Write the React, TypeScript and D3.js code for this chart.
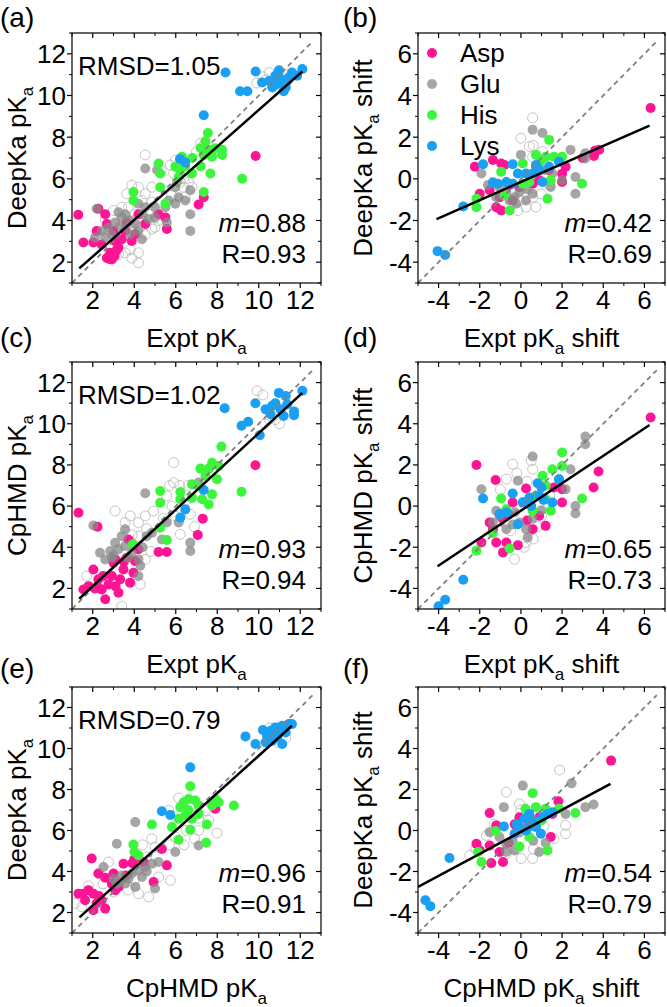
import React from "react";
import * as d3 from "d3";

type Pt = [number, number];

const W = 667;
const H = 1007;
const FONT = "'Liberation Sans', Arial, Helvetica, sans-serif";
const FS = 26;

const categories = ["Asp", "Glu", "His", "Lys"];
const catColors = ["#FF1493", "#888888", "#3CF53C", "#1AA0F2"];
const catOpacity = [1, 0.75, 1, 1];
const panelLetters = ["(a)", "(b)", "(c)", "(d)", "(e)", "(f)"];
const absTicks = [2, 4, 6, 8, 10, 12];
const shiftTicks = [-4, -2, 0, 2, 4, 6];
const absDomain: Pt = [1, 13];
const shiftDomain: Pt = [-5, 7];
const absDiag: Pt = [1, 12.6];
const shiftDiag: Pt = [-5, 6.6];

const rmsdText = ["1.05", "", "1.02", "", "0.79", ""];
const slopeText = ["0.88", "0.42", "0.93", "0.65", "0.96", "0.54"];
const rText = ["0.93", "0.69", "0.94", "0.73", "0.91", "0.79"];

const xLabels = [
  ["Expt pK", "a", ""], ["Expt pK", "a", " shift"],
  ["Expt pK", "a", ""], ["Expt pK", "a", " shift"],
  ["CpHMD pK", "a", ""], ["CpHMD pK", "a", " shift"],
];
const yLabels = [
  ["DeepKa pK", "a", ""], ["DeepKa pK", "a", " shift"],
  ["CpHMD pK", "a", ""], ["CpHMD pK", "a", " shift"],
  ["DeepKa pK", "a", ""], ["DeepKa pK", "a", " shift"],
];

// fit lines
const fitA: Pt[] = [[1.35, 1.7], [12.1, 11.15]];
const fitB: Pt[] = [[-4.1, -1.93], [6.25, 2.55]];
const fitC: Pt[] = [[1.35, 1.5], [12.1, 11.5]];
const fitD: Pt[] = [[-4.05, -2.92], [6.25, 3.94]];
const fitE: Pt[] = [[1.36, 1.76], [11.6, 11.11]];
const fitF: Pt[] = [[-5, -2.75], [4.35, 2.27]];

// ---------- panel (a) ----------
const aAsp: Pt[] = [[9.85,7.1],[7.1,4.77],[7.35,5.12],[1.3,4.28],[1.55,2.94],[2.03,2.94],[2.27,4.56],[2.19,3.5],[2.6,4.3],[2.68,3.83],[3.0,3.5],[3.08,3.0],[2.68,2.2],[2.92,2.13],[3.16,2.6],[3.4,3.1],[3.56,3.5],[3.88,3.02],[4.04,3.34],[4.2,4.3],[4.53,3.83],[5.17,4.3],[5.5,4.15],[5.57,3.59],[3.64,3.9],[3.24,2.7],[2.43,2.85],[2.84,2.45],[2.8,2.15],[3.05,2.3]];
const aGlu: Pt[] = [[4.53,6.5],[5.1,6.42],[6.06,5.85],[5.98,5.6],[6.7,5.45],[6.14,5.12],[5.66,4.96],[5.5,4.64],[5.0,4.64],[5.98,4.8],[6.46,4.96],[6.7,4.3],[6.7,3.5],[5.57,3.9],[5.0,4.15],[4.53,4.64],[4.2,4.8],[3.24,4.4],[3.56,4.3],[3.8,4.0],[4.05,3.83],[4.2,3.5],[3.08,3.9],[2.76,3.67],[2.43,3.5],[2.11,3.18],[2.19,4.56],[2.92,3.34],[3.4,4.15],[4.37,3.1],[4.69,4.07],[3.8,3.34],[3.3,3.7],[4.4,4.3],[3.6,3.7],[2.6,3.2]];
const aHis: Pt[] = [[7.55,8.2],[7.43,7.8],[7.2,7.47],[7.6,7.4],[7.9,7.47],[8.23,7.4],[8.23,7.15],[7.75,7.06],[7.35,7.15],[6.8,7.0],[6.3,7.06],[6.45,6.6],[6.22,6.42],[6.78,6.26],[6.15,6.1],[7.2,6.6],[7.67,6.26],[5.17,6.74],[5.25,6.26],[5.25,5.6],[5.5,4.8],[3.96,5.37],[3.96,4.96],[7.35,5.37],[9.2,6.0],[5.98,6.58]];
const aLys: Pt[] = [[8.4,11.1],[9.85,11.15],[9.1,10.2],[9.45,10.2],[7.35,9.05],[6.2,6.95],[6.45,6.8],[10.16,10.62],[10.5,10.7],[10.8,10.95],[10.97,11.2],[11.13,10.62],[11.3,10.38],[11.45,10.87],[11.6,11.1],[11.85,10.95],[12.1,11.27],[11.2,10.2],[10.9,10.55],[10.65,10.4],[11.05,10.8],[11.37,10.7]];
const aOpen: Pt[] = [[10.2,10.9],[10.5,11.1],[10.7,10.4],[11.0,11.2],[11.3,11.0],[9.9,10.6],[10.35,10.75],[4.53,7.15],[5.74,6.66],[5.9,6.25],[6.38,6.0],[6.22,5.85],[6.38,5.6],[6.62,5.85],[7.2,7.7],[7.27,7.55],[7.0,7.3],[4.53,5.28],[4.2,5.6],[3.88,5.69],[3.64,5.28],[4.85,5.6],[3.4,4.64],[3.72,4.64],[4.37,4.96],[4.85,4.88],[4.04,4.3],[4.69,4.3],[4.85,3.59],[4.53,3.34],[3.8,2.6],[4.2,2.45],[3.56,2.45],[3.24,2.37],[3.88,2.2],[4.2,1.97],[3.0,4.48],[2.6,4.07],[5.17,4.0],[5.0,3.67],[5.8,5.2],[6.46,5.12],[6.78,5.6],[4.0,4.0],[4.3,3.7],[3.9,3.4],[5.3,6.4],[6.0,6.9]];

// ---------- panel (b) ----------
const bAsp: Pt[] = [[6.3,3.4],[3.8,1.4],[3.55,1.1],[3.6,1.35],[-2.24,0.58],[-1.36,0.9],[-0.96,0.74],[-0.8,0.66],[-2.0,-0.72],[-1.52,-0.55],[-1.04,-0.88],[-0.96,-1.52],[-1.2,-1.36],[-0.4,-1.04],[-0.07,-0.4],[0.57,-0.23],[1.37,0.42],[2.0,0.25],[2.0,-0.15],[-0.55,-0.3],[0.9,-0.07],[2.17,0.58],[3.0,1.0]];
const bGlu: Pt[] = [[0.57,2.36],[1.05,2.2],[0.0,1.15],[-1.92,0.26],[-1.36,-0.15],[-1.04,-0.39],[-0.71,-0.63],[-0.31,-0.88],[-0.07,-0.63],[0.25,-1.04],[-0.55,-1.04],[-0.23,-1.2],[0.57,-0.72],[1.2,0.42],[1.53,0.26],[2.41,1.39],[2.65,0.09],[2.65,-0.72],[3.13,1.23],[3.13,0.98],[2.0,-0.07],[1.45,-0.39],[-1.2,-0.88],[0.73,0.58],[-1.6,-0.3],[0.3,-0.5]];
const bHis: Pt[] = [[1.37,1.87],[0.09,0.74],[-0.96,0.34],[-2.16,-0.96],[-2.16,-1.36],[-0.55,-1.52],[1.29,-0.96],[1.45,-0.07],[1.21,1.06],[1.61,1.06],[2.0,1.06],[2.97,-0.23],[0.73,1.15],[0.41,-0.15],[-0.8,-0.8],[0.09,-0.23],[0.89,0.58],[1.0,0.9]];
const bLys: Pt[] = [[-4.05,-3.47],[-3.68,-3.66],[-2.8,-1.33],[-1.84,0.7],[-0.4,0.7],[-1.12,-0.23],[-0.71,-0.15],[-0.15,0.26],[0.25,0.26],[0.73,0.66],[0.89,0.42],[1.05,-0.15],[1.85,0.82],[0.57,0.26],[1.37,0.58],[-0.4,-0.23],[-1.36,-0.2]];
const bOpen: Pt[] = [[0.57,2.93],[0.0,1.95],[0.41,1.55],[1.05,1.31],[0.57,1.06],[1.3,0.6],[-0.07,-1.04],[0.25,-1.36],[0.73,-1.36],[-0.55,-1.36],[-0.15,-1.52],[0.57,-0.88],[0.97,-0.72],[-0.3,-0.6],[0.3,-0.3],[0.8,0.2],[-0.9,-0.5],[0.6,1.6],[1.4,-0.3]];

// ---------- panel (c) ----------
const cAsp: Pt[] = [[9.84,7.98],[1.31,5.68],[2.23,5.0],[7.3,5.39],[7.06,4.6],[5.17,3.77],[5.57,3.77],[1.55,1.95],[2.03,2.92],[2.27,2.44],[2.43,1.95],[2.6,1.47],[2.76,2.19],[2.92,2.6],[3.0,3.25],[3.24,1.79],[3.32,2.44],[3.48,2.92],[3.64,3.49],[3.8,2.28],[3.96,2.76],[4.04,3.33],[4.2,3.9],[3.72,4.38],[2.27,2.03],[1.8,2.11],[3.08,3.41],[2.5,2.6],[3.1,2.1],[3.5,3.3],[2.1,2.0]];
const cGlu: Pt[] = [[4.53,6.62],[7.1,7.14],[2.03,5.06],[3.56,4.87],[3.4,4.54],[3.08,4.22],[2.84,3.82],[2.6,3.41],[2.92,3.49],[3.24,3.9],[3.56,4.06],[3.88,3.73],[4.2,3.41],[4.29,3.1],[4.2,2.6],[4.6,4.54],[4.85,4.7],[5.33,4.38],[5.57,5.2],[6.14,5.2],[6.7,4.22],[6.7,3.82],[2.35,3.73],[3.0,3.6],[3.7,3.5],[4.4,4.0]];
const cHis: Pt[] = [[8.2,8.89],[7.19,7.82],[7.6,7.82],[7.75,8.1],[8.07,7.95],[7.43,7.46],[7.99,7.3],[6.78,7.06],[6.22,6.68],[6.22,6.33],[6.78,6.4],[7.27,6.33],[7.75,6.57],[7.59,6.08],[5.25,6.73],[5.25,6.16],[5.25,4.95],[5.57,4.35],[3.93,4.14],[9.17,6.7],[7.1,6.98]];
const cLys: Pt[] = [[8.36,10.75],[9.84,11.0],[9.17,9.9],[9.49,10.1],[10.05,9.44],[12.1,11.6],[10.97,11.5],[11.3,11.35],[10.8,11.0],[10.65,10.87],[10.33,10.7],[10.57,10.46],[11.05,10.7],[11.2,10.38],[11.7,10.6],[11.7,10.41],[7.35,6.78],[6.46,5.84],[6.22,5.44],[11.37,10.95]];
const cOpen: Pt[] = [[9.92,11.6],[10.2,11.4],[10.49,10.22],[10.8,10.2],[10.3,10.0],[11.0,10.0],[5.9,8.11],[5.9,7.14],[5.7,7.0],[5.57,6.49],[5.82,6.0],[6.2,7.0],[6.5,6.3],[6.6,7.0],[5.98,5.52],[6.22,4.63],[3.08,5.76],[3.56,5.2],[3.8,5.52],[4.2,5.2],[4.53,5.52],[4.93,5.76],[4.2,4.54],[4.53,3.41],[4.29,2.2],[3.4,1.14],[4.8,3.8],[4.6,4.9],[3.9,4.6],[5.4,5.4],[6.7,5.6],[6.9,5.0],[1.7,2.6]];

// ---------- panel (d) ----------
const dAsp: Pt[] = [[6.3,4.3],[3.77,1.68],[3.53,0.9],[-2.16,2.0],[-1.23,1.27],[0.25,0.85],[-1.92,-1.77],[-1.2,-1.77],[-0.87,-2.25],[-0.15,-1.9],[-1.52,-0.8],[-1.36,-1.12],[-0.9,-0.6],[-0.6,-0.4],[-0.4,0.17],[0.89,-0.47],[2.0,0.17],[2.0,0.82],[1.2,-0.96],[0.57,-1.12],[-0.71,-1.77],[0.3,-0.7],[1.6,0.9]];
const dGlu: Pt[] = [[0.57,2.41],[-0.15,1.23],[-1.92,0.82],[3.13,3.38],[3.13,3.0],[2.41,1.79],[2.65,0.0],[2.65,-0.36],[-1.36,-0.8],[-1.04,-0.47],[-0.71,-1.12],[-0.07,-0.8],[0.25,-1.12],[0.33,-1.53],[0.57,-0.6],[-1.2,-0.23],[2.17,0.82],[-0.4,-0.9],[1.0,-0.2],[-0.3,-0.3]];
const dHis: Pt[] = [[2.0,2.6],[1.53,1.79],[1.05,1.47],[2.0,1.95],[1.85,1.3],[2.97,0.37],[-0.96,0.37],[-2.16,-2.17],[-0.55,-2.06],[-1.36,-1.31],[0.57,-0.23],[1.45,-0.23],[1.2,0.34],[0.1,0.2],[0.73,0.5],[-0.71,-0.15],[1.2,1.0]];
const dLys: Pt[] = [[-4.0,-4.87],[-3.68,-4.55],[-2.8,-3.58],[-1.84,0.37],[-0.4,0.61],[-1.04,-0.39],[-0.71,-0.31],[-0.15,-0.88],[0.09,0.17],[0.41,0.42],[0.81,1.11],[1.0,0.9],[1.1,0.3],[0.89,0.5],[1.53,0.17],[1.85,1.3],[0.5,0.0]];
const dOpen: Pt[] = [[-0.4,2.04],[-0.71,1.31],[-0.2,1.6],[0.57,1.79],[0.5,2.2],[0.3,1.2],[0.25,-1.77],[-0.31,-2.58],[0.17,-2.0],[0.8,-1.0],[1.0,-0.5],[-0.5,-1.2],[0.6,-1.6],[1.4,0.5],[-1.0,0.8]];

// ---------- panel (e) ----------
const eAsp: Pt[] = [[7.91,7.06],[1.95,4.63],[1.31,2.92],[1.79,3.09],[2.03,2.92],[2.19,2.44],[2.03,2.11],[2.6,2.19],[2.43,2.6],[2.27,3.9],[2.6,3.7],[3.0,3.9],[3.48,4.38],[3.9,4.4],[3.24,3.25],[3.08,3.09],[4.45,4.46],[4.93,3.49],[5.33,5.1],[5.57,4.3],[2.92,3.41],[1.63,2.6],[1.5,2.9],[2.3,2.8],[4.0,4.6],[3.6,3.8]];
const eGlu: Pt[] = [[4.05,6.41],[3.16,5.35],[5.98,4.95],[7.1,5.27],[2.52,4.22],[3.16,3.41],[3.4,3.81],[3.72,3.65],[3.88,3.9],[4.2,4.06],[4.53,4.22],[4.85,4.38],[5.17,4.46],[3.56,3.41],[5.0,3.17],[4.05,3.25],[4.37,3.73],[3.0,3.65],[3.3,3.5],[4.6,4.0]];
const eHis: Pt[] = [[6.7,8.16],[6.62,7.54],[6.94,7.46],[6.38,7.38],[7.1,7.22],[6.22,7.14],[7.91,7.54],[8.07,7.38],[7.75,7.22],[8.8,7.22],[6.46,6.73],[6.14,6.57],[5.82,6.17],[4.85,6.29],[6.7,6.04],[7.5,6.29],[6.14,5.55],[7.46,5.4],[3.96,5.32],[4.01,4.95],[4.2,4.79],[6.78,6.57],[7.1,6.81],[6.6,7.0]];
const eLys: Pt[] = [[6.7,9.08],[9.36,10.59],[5.33,6.94],[5.74,6.76],[9.84,10.22],[10.4,10.62],[10.57,10.86],[10.8,11.03],[11.13,11.11],[11.45,11.19],[11.6,11.19],[11.3,10.78],[10.9,10.54],[10.65,10.38],[11.13,10.22],[10.33,10.3],[10.97,10.78],[10.2,10.9]];
const eOpen: Pt[] = [[6.14,7.59],[5.66,6.98],[5.9,6.7],[7.1,6.6],[7.43,6.98],[7.59,6.49],[7.99,5.87],[7.1,6.0],[6.5,6.0],[5.98,5.68],[5.7,5.3],[6.4,5.3],[6.9,5.6],[4.85,5.6],[5.0,5.19],[4.4,5.3],[4.6,4.71],[5.74,3.57],[2.76,4.46],[2.3,3.9],[2.5,3.4],[1.8,3.3],[1.47,2.28],[1.15,2.44],[4.69,2.76],[4.2,2.92],[3.7,3.1],[5.17,3.73],[10.9,10.3],[11.3,10.5],[10.5,11.0],[3.0,3.0],[4.0,3.6]];

// ---------- panel (f) ----------
const fAsp: Pt[] = [[4.38,3.41],[1.82,1.43],[-1.52,0.85],[-1.2,0.25],[-2.16,-0.65],[-1.52,-0.73],[-1.44,-1.59],[-0.87,-1.54],[-1.04,-1.05],[-0.07,0.65],[0.89,0.65],[1.53,0.81],[1.45,-0.32],[-2.0,-0.97],[-0.6,-0.6],[-0.3,0.3],[0.4,0.3]];
const fGlu: Pt[] = [[0.09,2.19],[-0.83,1.14],[2.46,2.3],[3.13,1.14],[3.53,1.27],[2.17,0.81],[-1.52,-0.08],[-1.04,-0.32],[-0.71,-0.65],[-0.31,-0.97],[-0.71,-1.05],[0.89,-1.05],[1.2,-0.6],[-0.07,-0.1],[0.6,-0.5],[0.7,0.3],[-0.4,-0.5]];
const fHis: Pt[] = [[0.57,1.82],[0.22,1.06],[0.73,1.14],[1.2,1.06],[1.85,1.06],[2.65,0.85],[-1.23,-0.03],[-2.08,-1.05],[-1.92,-1.54],[-0.07,-0.78],[1.29,-0.97],[0.41,-0.32],[1.0,0.5]];
const fLys: Pt[] = [[-4.64,-3.4],[-4.4,-3.69],[-3.47,-1.34],[-0.83,0.2],[-0.31,-0.16],[-0.07,0.17],[0.17,0.57],[0.41,0.81],[0.57,0.49],[0.73,0.17],[0.97,-0.16],[1.05,0.65],[1.29,0.81],[1.53,0.89],[0.25,0.0],[-0.2,0.3],[0.4,0.2]];
const fOpen: Pt[] = [[1.88,2.95],[-0.71,1.87],[-0.07,1.3],[0.0,1.0],[1.1,0.2],[2.17,0.25],[2.17,-0.16],[-2.48,-1.21],[-2.2,-0.9],[-0.71,-1.13],[0.01,-1.37],[0.57,-1.37],[-0.2,-0.9],[-1.1,-0.8],[0.6,-0.9],[-1.68,-0.24],[1.6,-0.4],[-1.3,0.3]];

// layout
const colLeft = [72, 418];
const colRight = [321, 665];
const rowTop = [33, 362, 687];
const rowBottom = [283, 609, 933];
const letterBase = [27, 347, 678];

const panelData = [
  { cats: [aAsp, aGlu, aHis, aLys], open: aOpen, fit: fitA },
  { cats: [bAsp, bGlu, bHis, bLys], open: bOpen, fit: fitB },
  { cats: [cAsp, cGlu, cHis, cLys], open: cOpen, fit: fitC },
  { cats: [dAsp, dGlu, dHis, dLys], open: dOpen, fit: fitD },
  { cats: [eAsp, eGlu, eHis, eLys], open: eOpen, fit: fitE },
  { cats: [fAsp, fGlu, fHis, fLys], open: fOpen, fit: fitF },
];

function T(props: {
  x: number; y: number; rot?: number; anchor?: string; size?: number;
  dy?: string; children: React.ReactNode;
}) {
  const { x, y, rot, anchor = "start", size = FS, dy, children } = props;
  const tr = `translate(${x},${y})${rot ? ` rotate(${rot})` : ""}`;
  return (
    <text transform={tr} textAnchor={anchor} fontSize={size} fontFamily={FONT} dy={dy} fill="#000">
      {children}
    </text>
  );
}

function Label(props: { parts: string[] }) {
  const [main, sub, tail] = props.parts;
  return (
    <>
      {main}
      <tspan fontSize={17} dy={7}>{sub}</tspan>
      {tail ? <tspan dy={-7}>{tail}</tspan> : null}
    </>
  );
}

function Panel({ idx }: { idx: number }) {
  const col = idx % 2;
  const row = Math.floor(idx / 2);
  const shift = col === 1;
  const x0 = colLeft[col], x1 = colRight[col];
  const y0 = rowTop[row], y1 = rowBottom[row];
  const domain = shift ? shiftDomain : absDomain;
  const ticks = shift ? shiftTicks : absTicks;
  const diag = shift ? shiftDiag : absDiag;
  const xs = d3.scaleLinear().domain(domain).range([x0, x1]);
  const ys = d3.scaleLinear().domain(domain).range([y1, y0]);
  const minor = d3.range(domain[0], domain[1] + 0.001, 1).filter((v) => !ticks.includes(v));
  const pd = panelData[idx];
  const line = d3.line<Pt>().x((d) => xs(d[0])).y((d) => ys(d[1]));
  const clipId = `clip${idx}`;
  const MAJ = 5, MIN = 3;
  const cx = (x0 + x1) / 2, cy = (y0 + y1) / 2;

  return (
    <g>
      <defs>
        <clipPath id={clipId}>
          <rect x={x0} y={y0} width={x1 - x0} height={y1 - y0} />
        </clipPath>
      </defs>
      <g clipPath={`url(#${clipId})`}>
        {pd.open.map((p, i) => (
          <circle key={"o" + i} cx={xs(p[0])} cy={ys(p[1])} r={5} fill="none" stroke="#BDBDBD" strokeWidth={0.9} />
        ))}
        {pd.cats.map((arr, ci) =>
          arr.map((p, i) => (
            <circle key={ci + "-" + i} cx={xs(p[0])} cy={ys(p[1])} r={5}
              fill={catColors[ci]} fillOpacity={catOpacity[ci]} />
          ))
        )}
        <line x1={xs(diag[0])} y1={ys(diag[0])} x2={xs(diag[1])} y2={ys(diag[1])}
          stroke="#808080" strokeWidth={1.8} strokeDasharray="5,4" />
        <path d={line(pd.fit) || ""} stroke="#000" strokeWidth={2.5} fill="none" />
      </g>
      <rect x={x0} y={y0} width={x1 - x0} height={y1 - y0} fill="none" stroke="#000" strokeWidth={1.2} />
      {ticks.map((t) => (
        <g key={"M" + t}>
          <line x1={xs(t)} x2={xs(t)} y1={y1} y2={y1 + MAJ} stroke="#000" strokeWidth={1.2} />
          <line x1={xs(t)} x2={xs(t)} y1={y0} y2={y0 + MAJ} stroke="#000" strokeWidth={1.2} />
          <line x1={x0} x2={x0 - MAJ} y1={ys(t)} y2={ys(t)} stroke="#000" strokeWidth={1.2} />
          <line x1={x1} x2={x1 - MAJ} y1={ys(t)} y2={ys(t)} stroke="#000" strokeWidth={1.2} />
          <T x={xs(t)} y={y1 + 26} anchor="middle">{String(t)}</T>
          <T x={x0 - 6} y={ys(t)} anchor="end" dy="0.36em">{String(t)}</T>
        </g>
      ))}
      {minor.map((t) => (
        <g key={"m" + t}>
          <line x1={xs(t)} x2={xs(t)} y1={y1} y2={y1 + MIN} stroke="#000" strokeWidth={1} />
          <line x1={xs(t)} x2={xs(t)} y1={y0} y2={y0 + MIN} stroke="#000" strokeWidth={1} />
          <line x1={x0} x2={x0 - MIN} y1={ys(t)} y2={ys(t)} stroke="#000" strokeWidth={1} />
          <line x1={x1} x2={x1 - MIN} y1={ys(t)} y2={ys(t)} stroke="#000" strokeWidth={1} />
        </g>
      ))}
      <T x={cx} y={y1 + 64} anchor="middle"><Label parts={xLabels[idx]} /></T>
      <T x={x0 - 46} y={cy} rot={-90} anchor="middle"><Label parts={yLabels[idx]} /></T>
      <T x={col === 0 ? 0 : 343} y={letterBase[row]} size={28}>{panelLetters[idx]}</T>
      {rmsdText[idx] ? <T x={x0 + 6} y={y0 + 42}>{`RMSD=${rmsdText[idx]}`}</T> : null}
      <T x={x1 - (shift ? 13 : 15)} y={y1 - 51} anchor="end">
        <tspan fontStyle="italic">m</tspan>{`=${slopeText[idx]}`}
      </T>
      <T x={x1 - (shift ? 13 : 15)} y={y1 - 20} anchor="end">{`R=${rText[idx]}`}</T>
      {idx === 1
        ? categories.map((c, i) => (
            <g key={c}>
              <circle cx={x0 + 14} cy={y0 + 20 + i * 31} r={5} fill={catColors[i]} fillOpacity={catOpacity[i]} />
              <T x={x0 + 42} y={y0 + 20 + i * 31} dy="0.36em">{c}</T>
            </g>
          ))
        : null}
    </g>
  );
}

export default function App() {
  return (
    <svg width={W} height={H} viewBox={`0 0 ${W} ${H}`}
      style={{ position: "absolute", left: 0, top: 0, background: "#fff" }}>
      <rect x={0} y={0} width={W} height={H} fill="#fff" />
      {[0, 1, 2, 3, 4, 5].map((i) => <Panel key={i} idx={i} />)}
    </svg>
  );
}
